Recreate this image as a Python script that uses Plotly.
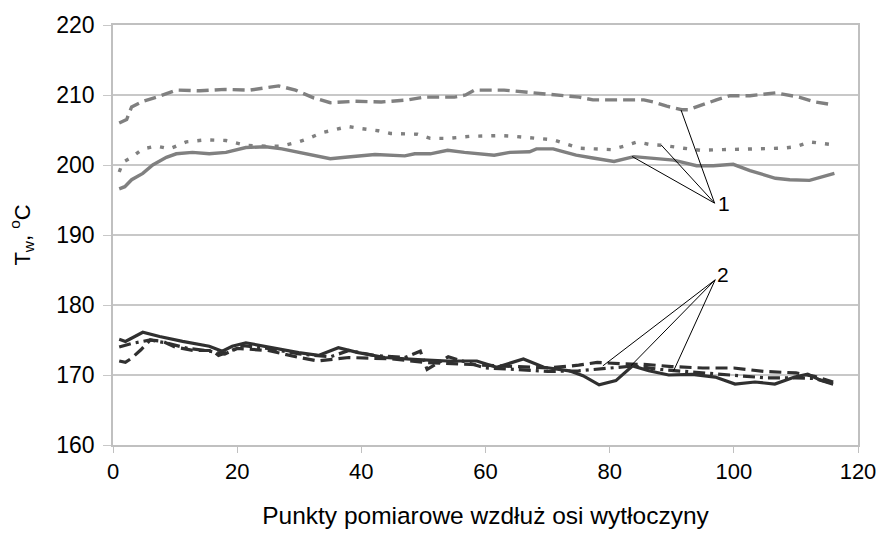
import plotly.graph_objects as go

# Upper group (gray)
top_dash_x = [1, 2.2, 3, 4.8, 7, 10.2, 14, 18, 22, 24.6, 26.7, 29.4, 32.3, 35, 39, 43.2, 47.5, 50.1, 55, 56.8, 58.2, 63, 66.6, 70.3, 75.1, 77.3, 81.2, 85.5, 87.1, 89.2, 91.6, 92.7, 97.2, 99.4, 102.6, 106.7, 110.5, 113.1, 116]
top_dash_y = [206.0, 206.5, 208.3, 209.1, 209.7, 210.7, 210.6, 210.8, 210.7, 211.1, 211.3, 210.7, 209.6, 208.9, 209.1, 209.0, 209.3, 209.7, 209.7, 210.0, 210.7, 210.7, 210.4, 210.0, 209.7, 209.3, 209.3, 209.3, 209.0, 208.4, 207.9, 207.9, 209.3, 209.9, 209.9, 210.3, 209.7, 209.0, 208.6]

dot_x = [1, 1.6, 3, 4.8, 7, 9.1, 11.8, 15, 18.2, 21.4, 24.6, 27.2, 29.9, 31.5, 33.6, 35.8, 37.9, 40, 42.7, 44.7, 47, 49, 51.1, 53.9, 57.5, 60.2, 62.3, 64.6, 67.1, 70.9, 73, 75.1, 77.5, 80.2, 82.3, 84.4, 86.6, 88.7, 91.9, 94.6, 98.3, 102.6, 107.9, 109.9, 112.2, 116]
dot_y = [199.0, 200.4, 201.1, 202.3, 202.7, 202.3, 203.3, 203.6, 203.5, 202.8, 202.7, 202.7, 203.3, 203.8, 204.6, 205.1, 205.5, 205.2, 204.9, 204.5, 204.4, 204.4, 203.8, 203.8, 204.1, 204.2, 204.2, 204.1, 203.9, 203.6, 203.0, 202.4, 202.3, 202.2, 202.7, 203.3, 202.9, 202.8, 202.4, 202.1, 202.2, 202.3, 202.4, 202.6, 203.3, 202.9]

solid_g_x = [1, 1.9, 3, 4.8, 6.4, 8.6, 10.2, 12.8, 15.5, 18.2, 21.4, 24.6, 27.2, 29.9, 32, 35, 37.4, 40.6, 42.2, 47, 48.6, 51.1, 53.9, 56.6, 59.1, 61.4, 63.9, 67.1, 68.2, 70.9, 72.5, 74.6, 77.3, 80.7, 83.9, 87.1, 90.3, 94, 96.7, 99.9, 102.6, 106.7, 109, 112.2, 114.3, 116.2]
solid_g_y = [196.6, 196.9, 197.9, 198.8, 200.0, 201.1, 201.6, 201.8, 201.6, 201.8, 202.5, 202.6, 202.3, 201.8, 201.4, 200.9, 201.1, 201.3, 201.5, 201.3, 201.6, 201.6, 202.1, 201.8, 201.6, 201.4, 201.8, 201.9, 202.3, 202.3, 201.9, 201.4, 201.0, 200.5, 201.2, 200.9, 200.7, 199.9, 199.9, 200.1, 199.2, 198.1, 197.9, 197.8, 198.3, 198.8]

# Lower group (dark)
solid_d_x = [1, 2, 4.8, 7.5, 11.2, 15.5, 17.6, 19.2, 21.4, 25.6, 29.9, 33.1, 36.3, 39.5, 43.8, 49.1, 53.9, 58.6, 61.8, 66.1, 69.4, 73.5, 75.7, 78.3, 81, 83.7, 86.3, 89.5, 93.3, 97, 100.2, 103.4, 106.6, 109.8, 111.9, 114.1, 116]
solid_d_y = [175.1, 174.8, 176.1, 175.5, 174.8, 174.1, 173.4, 174.1, 174.6, 173.9, 173.2, 172.8, 173.9, 173.2, 172.5, 172.2, 172.0, 172.0, 171.1, 172.3, 171.1, 170.6, 169.9, 168.6, 169.2, 171.3, 170.6, 170.0, 170.1, 169.7, 168.7, 169.0, 168.7, 169.7, 170.1, 169.2, 168.7]

dash_d_x = [1, 2, 3, 4.5, 6, 8, 10, 13, 16, 17, 20, 25, 30, 33, 38, 45, 50, 55, 60, 65, 70, 75, 78, 82, 86, 90, 95, 100, 105, 110, 113, 116]
dash_d_y = [172.0, 171.8, 172.4, 173.6, 175.0, 174.8, 174.0, 173.5, 173.5, 172.8, 173.8, 173.5, 172.5, 172.0, 172.5, 172.3, 171.8, 171.6, 171.3, 171.2, 171.0, 171.4, 171.8, 171.6, 171.5, 171.2, 171.0, 171.0, 170.5, 170.3, 169.8, 169.0]

dashdot_d_x = [1, 3, 6, 9, 12, 15, 18, 21, 25, 30, 35, 38, 42, 47, 49.5, 50.6, 54, 60, 65, 70, 75, 80, 84, 88, 92, 96, 100, 105, 110, 113, 116]
dashdot_d_y = [174.0, 174.5, 175.0, 174.5, 173.8, 173.5, 173.0, 174.2, 173.8, 173.0, 172.6, 173.5, 172.8, 172.5, 173.4, 170.8, 172.6, 171.0, 170.8, 170.5, 170.6, 171.0, 171.3, 170.8, 170.5, 170.2, 170.0, 169.6, 169.6, 169.5, 168.8]

# Label leader lines
label1_origin = (96.9, 194.55)
label1_targets = [(91.5, 207.85), (88.3, 202.86), (83.6, 201.22)]
label2_origin = (97.0, 183.6)
label2_targets = [(78.9, 171.3), (83.4, 171.3), (90.3, 170.6)]

x_ticks = [0, 20, 40, 60, 80, 100, 120]
y_ticks = [160, 170, 180, 190, 200, 210, 220]

GRAY = "#808080"
DARK = "#303030"

fig = go.Figure()
fig.add_trace(go.Scatter(x=top_dash_x, y=top_dash_y, mode="lines",
                         line=dict(color=GRAY, width=3.4, dash="12px,6px")))
fig.add_trace(go.Scatter(x=dot_x, y=dot_y, mode="lines",
                         line=dict(color=GRAY, width=3.4, dash="4px,9px")))
fig.add_trace(go.Scatter(x=solid_g_x, y=solid_g_y, mode="lines",
                         line=dict(color=GRAY, width=3.4)))
fig.add_trace(go.Scatter(x=dash_d_x, y=dash_d_y, mode="lines",
                         line=dict(color=DARK, width=3.2, dash="12px,6px")))
fig.add_trace(go.Scatter(x=dashdot_d_x, y=dashdot_d_y, mode="lines",
                         line=dict(color=DARK, width=3.2, dash="12px,5px,3px,5px")))
fig.add_trace(go.Scatter(x=solid_d_x, y=solid_d_y, mode="lines",
                         line=dict(color=DARK, width=3.2)))

shapes = []
for (tx, ty) in label1_targets:
    shapes.append(dict(type="line", xref="x", yref="y", x0=label1_origin[0], y0=label1_origin[1],
                       x1=tx, y1=ty, line=dict(color="black", width=1)))
for (tx, ty) in label2_targets:
    shapes.append(dict(type="line", xref="x", yref="y", x0=label2_origin[0], y0=label2_origin[1],
                       x1=tx, y1=ty, line=dict(color="black", width=1)))

annotations = [
    dict(x=label1_origin[0], y=label1_origin[1], text="1", showarrow=False, xanchor="left",
         yanchor="middle", xshift=1, font=dict(size=21, color="black")),
    dict(x=label2_origin[0], y=label2_origin[1], text="2", showarrow=False, xanchor="left",
         yanchor="bottom", xshift=0, yshift=-8, font=dict(size=21, color="black")),
]

fig.update_layout(
    width=888, height=537,
    margin=dict(l=113, r=24, t=21, b=90),
    paper_bgcolor="white", plot_bgcolor="white",
    showlegend=False,
    font=dict(family="Liberation Sans, Arial, sans-serif", color="black"),
    shapes=shapes, annotations=annotations,
    xaxis=dict(range=[0, 120], tickvals=x_ticks, showgrid=False, zeroline=False,
               showline=True, linecolor="#c0c0c0", linewidth=1.5, mirror=True,
               ticks="outside", ticklen=6, tickcolor="#c0c0c0",
               tickfont=dict(size=22),
               title=dict(text="Punkty pomiarowe wzdłuż osi wytłoczyny", font=dict(size=24.5), standoff=24)),
    yaxis=dict(range=[160, 220], tickvals=y_ticks, showgrid=True, gridcolor="#c8c8c8", gridwidth=1.5,
               zeroline=False, showline=True, linecolor="#c0c0c0", linewidth=1.5, mirror=True,
               ticks="outside", ticklen=8, tickcolor="#c8c8c8",
               tickfont=dict(size=23), ticklabelstandoff=4,
               title=dict(text="T<sub>w</sub>, <sup>o</sup>C", font=dict(size=22), standoff=20)),
)

fig.write_html("out.html")
